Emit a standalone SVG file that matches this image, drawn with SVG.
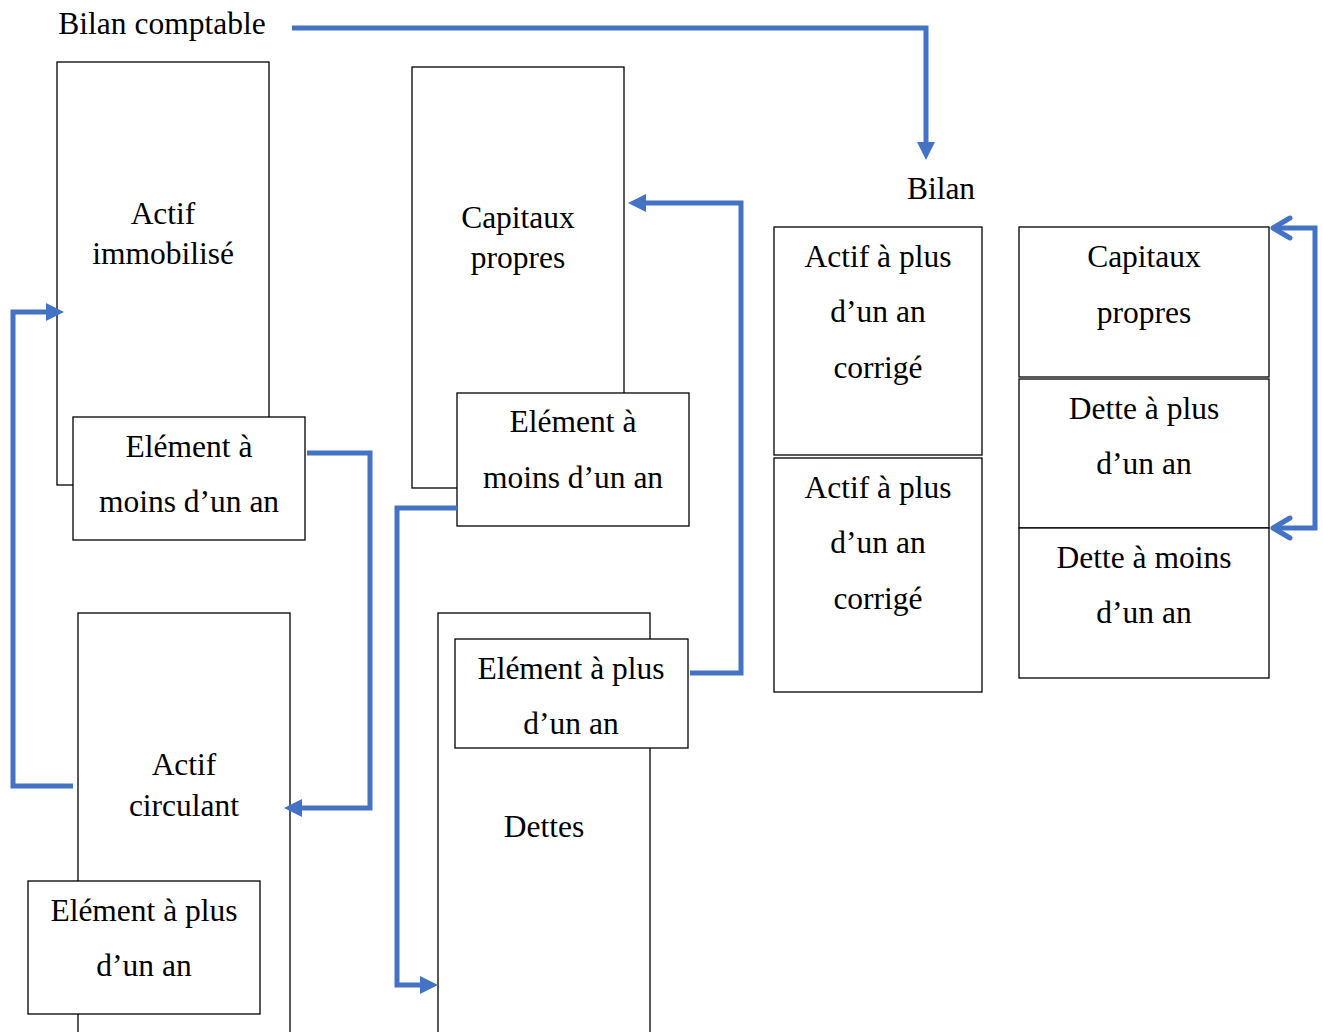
<svg xmlns="http://www.w3.org/2000/svg" width="1323" height="1032" viewBox="0 0 1323 1032">
<style>
.box{fill:#fff;stroke:#000;stroke-width:1.3}
.t{font-family:"Liberation Serif","Times New Roman",serif;font-size:31.5px;fill:#000;text-anchor:middle}
.c{fill:none;stroke:#4472C4;stroke-width:5;stroke-linejoin:miter}
</style>
<defs>
<marker id="ah" markerUnits="userSpaceOnUse" markerWidth="20" markerHeight="20" viewBox="0 0 20 20" refX="4" refY="10" orient="auto">
<path d="M0,1 L18,10 L0,19 Z" fill="#4472C4"/>
</marker>
<marker id="oa" markerUnits="userSpaceOnUse" markerWidth="26" markerHeight="26" viewBox="0 0 26 26" refX="22" refY="13" orient="auto-start-reverse">
<path d="M5,3 L22,13 L5,23" fill="none" stroke="#4472C4" stroke-width="5" stroke-linecap="round" stroke-linejoin="round"/>
</marker>
</defs>
<rect width="1323" height="1032" fill="#fff"/>
<text class="t" x="162" y="34">Bilan comptable</text>
<g id="actif-immobilise"><rect class="box" x="57" y="62" width="212" height="423"/><text class="t" x="163" y="224">Actif</text><text class="t" x="163" y="264">immobilisé</text></g>
<g id="elem-moins-gauche"><rect class="box" x="73" y="417" width="232" height="123"/><text class="t" x="189" y="457">Elément à</text><text class="t" x="189" y="512">moins d’un an</text></g>
<g id="actif-circulant"><rect class="box" x="78" y="613" width="212" height="430"/><text class="t" x="184" y="775">Actif</text><text class="t" x="184" y="816">circulant</text></g>
<g id="elem-plus-gauche"><rect class="box" x="28" y="881" width="232" height="133"/><text class="t" x="144" y="921">Elément à plus</text><text class="t" x="144" y="976">d’un an</text></g>
<g id="capitaux-propres"><rect class="box" x="412" y="67" width="212" height="421"/><text class="t" x="518" y="228">Capitaux</text><text class="t" x="518" y="268">propres</text></g>
<g id="elem-moins-milieu"><rect class="box" x="457" y="393" width="232" height="133"/><text class="t" x="573" y="432">Elément à</text><text class="t" x="573" y="488">moins d’un an</text></g>
<g id="dettes"><rect class="box" x="438" y="613" width="212" height="430"/><text class="t" x="544" y="837">Dettes</text></g>
<g id="elem-plus-milieu"><rect class="box" x="455" y="639" width="233" height="109"/><text class="t" x="571" y="679">Elément à plus</text><text class="t" x="571" y="734">d’un an</text></g>
<text class="t" x="941" y="199">Bilan</text>
<g id="actif-plus-1"><rect class="box" x="774" y="227" width="208" height="228"/><text class="t" x="878" y="267">Actif à plus</text><text class="t" x="878" y="322">d’un an</text><text class="t" x="878" y="378">corrigé</text></g>
<g id="actif-plus-2"><rect class="box" x="774" y="458" width="208" height="234"/><text class="t" x="878" y="498">Actif à plus</text><text class="t" x="878" y="553">d’un an</text><text class="t" x="878" y="609">corrigé</text></g>
<g id="capitaux-droite"><rect class="box" x="1019" y="227" width="250" height="150"/><text class="t" x="1144" y="267">Capitaux</text><text class="t" x="1144" y="323">propres</text></g>
<g id="dette-plus"><rect class="box" x="1019" y="379" width="250" height="149"/><text class="t" x="1144" y="419">Dette à plus</text><text class="t" x="1144" y="474">d’un an</text></g>
<g id="dette-moins"><rect class="box" x="1019" y="528" width="250" height="150"/><text class="t" x="1144" y="568">Dette à moins</text><text class="t" x="1144" y="623">d’un an</text></g>
<g id="connectors">
<path class="c" d="M292,28 H926 V146" marker-end="url(#ah)"/>
<path class="c" d="M690,673 H741 V203 H642" marker-end="url(#ah)"/>
<path class="c" d="M73,786 H13 V312 H50" marker-end="url(#ah)"/>
<path class="c" d="M307,453 H370 V808 H298" marker-end="url(#ah)"/>
<path class="c" d="M457,508 H397 V985 H424" marker-end="url(#ah)"/>
<path class="c" d="M1273,228 H1315 V528 H1273" marker-start="url(#oa)" marker-end="url(#oa)"/>
</g>
</svg>
